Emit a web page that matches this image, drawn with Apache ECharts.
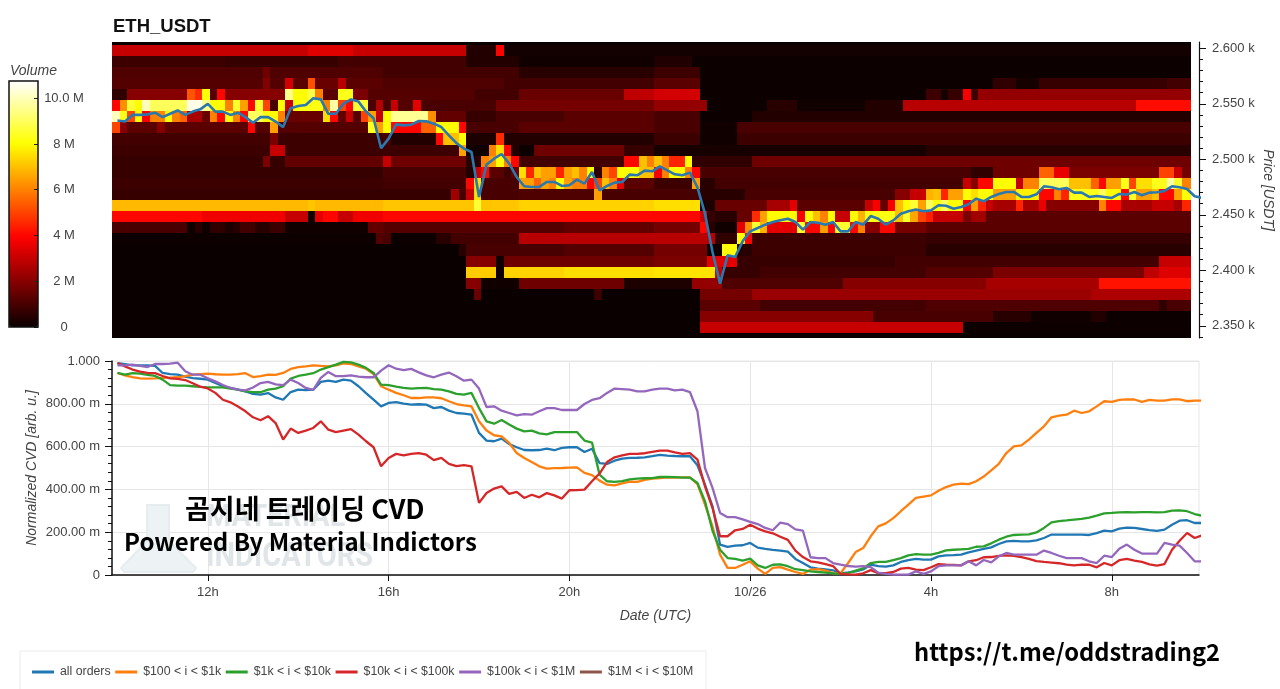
<!DOCTYPE html>
<html><head><meta charset="utf-8">
<style>html,body{margin:0;padding:0;background:#fff}#c{width:1280px;height:689px}</style>
<script src="https://cdn.jsdelivr.net/npm/echarts@6/dist/echarts.min.js"></script>
</head><body><div id="c"></div>
<script>
// ---- chart values ----
const rowPrices = [2609,2599,2589,2579,2569,2559,2549,2539,2529,2519,2509,2499,2489,2479,2469,2459,2449,2439,2429,2419,2409,2399,2389,2379,2369,2359,2349,2339];
// heat rows: value (M), end column (exclusive), value, end column ...
const heat2609 = [.02,144];
const heat2599 = [3,26,3.4,32,3,47,.4,51,3.9,52,.15,144];
const heat2589 = [.8,15,.7,30,.9,47,.4,54,.1,72,.35,77,.05,144];
const heat2579 = [1.1,20,1.6,21,1.1,36,.9,54,.5,72,.8,78,.05,144];
const heat2569 = [1.2,20,1.9,21,1.2,23,3.2,24,1.3,26,5.2,27,1.5,30,2.8,31,1.3,36,1.1,52,.9,72,1.3,78,.05,117,.6,120,.2,123,.7,140,.9,144];
const heat2559 = [.6,2,2,10,5.3,11,4.6,12,8,13,1.2,14,4,15,2,23,9.5,24,8,26,8.8,27,6,28,1.3,30,8.3,32,1.8,34,1.2,48,.9,54,1.5,68,2.9,72,3.2,78,.05,108,.8,110,.2,111,.7,113,3.8,114,.8,115,2.2,144];
const heat2549 = [4,1,6.2,2,8.6,3,8,4,10,5,9,10,10.5,12,9.5,13,8,15,6,16,8.5,17,6.5,18,4,19,8.5,20,5,21,1,22,8,23,3,24,8,25,8.2,28,6,29,9.8,30,5,31,4,32,8.6,34,1,35,2.7,36,1,37,3,38,1.2,40,3.5,41,1,51,1.7,72,2.2,79,.05,87,.5,91,.1,100,.4,105,2.8,136,4.1,144];
const heat2539 = [10,1,8.3,2,5,3,8,4,3.8,5,6,7,8,8,6,9,5.5,10,2.5,12,1.5,13,6,14,4,15,8,16,6,17,4,18,9,20,8,22,6,23,1.5,28,7.5,29,4,30,1.4,31,3,32,1.2,33,5,34,6.5,35,3,36,8,37,9.6,42,6.2,43,1.4,47,.7,51,1,60,1.3,72,1,78,.05,85,.4,144];
const heat2529 = [5,1,2,2,1.3,6,2,7,1.3,18,4,19,1.2,21,6.5,22,1.2,34,8.3,35,6.5,36,8,37,4,41,5.5,43,8,46,4,47,1,54,1.3,72,1,78,.1,83,1,144];
const heat2519 = [.9,21,1.8,22,.8,36,1,37,.4,43,4,44,7,46,8,47,.3,51,4.6,52,.4,72,.8,78,.1,83,.8,144];
const heat2509 = [.8,21,3,23,.8,46,6.5,47,.1,50,6,51,7.5,52,4,53,.4,54,.05,56,1.6,68,.7,72,.2,108,.5,144];
const heat2499 = [.7,20,1.8,21,.7,23,1.4,36,3,37,1.6,47,.5,49,6,50,6.5,51,8,52,6,53,4,54,.9,68,4,70,7,71,6,72,7,73,6,74,4.5,76,8,77,.6,85,1.6,144];
const heat2489 = [.7,36,1,47,.4,48,3,49,4,50,1.3,52,.8,53,1.5,54,7.5,55,4.5,56,7,57,6.5,59,4.5,60,6.5,61,7,62,6,63,8,64,.6,65,6,66,5,67,8,70,7,72,3.8,73,6,74,8,76,6,77,4,78,1,114,.6,117,1.6,123,5.5,125,3.6,127,1.8,139,5,141,3,142,1.7,144];
const heat2479 = [.8,36,.9,47,4,48,7.5,49,1,54,6.5,56,5.5,57,6.5,58,6,59,8,60,6.5,61,6,63,4,64,5,65,7,66,6,67,3.5,68,1.3,72,.8,77,6.5,78,.5,80,.9,113,3,114,2,115,4,117,8,120,3,121,6,123,9,127,7,130,5.5,131,4,132,6.5,134,8.3,135,5,136,7.5,138,8.3,140,9.8,141,8.5,142,6,144];
const heat2469 = [.7,45,2.4,46,1,47,3,48,7.5,49,1,54,1.1,64,6.5,65,1,78,.5,84,1,104,2,106,3,108,6.8,109,7,110,4.5,111,6.5,113,8,114,7.5,115,8,117,6.5,120,7.8,123,4,125,6,126,4.5,127,8.3,131,9,132,8,134,4,135,8.5,136,6.5,138,7,139,4,141,6.5,142,8,144];
const heat2459 = [6.9,26,7.1,27,6.9,36,7.1,48,8.6,49,7.1,54,7.3,72,7.5,78,.3,80,1.5,87,2.5,90,3.5,91,1.3,100,3,101,3.8,102,1.5,103,3.8,104,7,105,8,106,8.6,107,6.5,108,9,109,8,110,9,111,8,113,4,114,6.5,115,4.5,116,3,117,2.5,120,4.5,121,2.5,123,3.6,124,2,131,6,132,4,134,2.5,138,3,141,2.5,142,4.5,144];
const heat2449 = [4,12,3.7,23,3,26,.1,27,3.5,28,4,30,3,32,3.7,36,4,78,3,79,.7,80,.5,83,1.5,85,4.6,86,6.5,87,8,91,3.8,92,8,93,7,94,6,95,8,96,3,98,8,99,6.8,100,8.2,104,7,105,8.5,106,6.6,107,5,108,4.4,109,3,113,1.8,114,2.4,116,1.3,144];
const heat2439 = [1,10,.1,11,.5,12,.1,13,.6,15,.3,16,.5,17,.9,19,.5,21,.8,23,.1,34,1.4,36,1.2,60,1.4,72,1.7,78,4,79,.5,80,.1,83,3.5,84,6.2,85,8.5,86,6.8,87,3.5,91,8.5,92,4,94,6.5,95,4,96,8.5,98,4,99,6,100,2,102,4,104,1.7,108,1.3,144];
const heat2429 = [.05,35,1.2,36,1,37,.05,43,.5,45,.9,54,2.8,80,.6,83,8,84,4,85,.8,108,.7,144];
const heat2419 = [.02,46,.5,47,1,60,1.2,72,1.7,79,.1,81,8,83,.5,85,.8,108,.5,144];
const heat2409 = [.02,47,2,51,.1,52,1.6,72,1.8,79,3.5,83,.7,104,.9,139,3,144];
const heat2399 = [.02,47,7.2,51,.05,52,7.3,60,7.5,72,7.6,80,3,81,.7,86,.9,108,1.2,117,1.8,137,2.9,139,3.4,144];
const heat2389 = [.02,47,2,49,.1,54,1.6,68,.3,77,2.2,81,1.1,97,2,116,2.5,131,4.2,144];
const heat2379 = [.02,48,1.5,49,.02,64,.8,65,.02,78,1.7,85,2.3,130,2.6,144];
const heat2369 = [.02,78,1.3,86,.9,108,1.1,139,.6,140,1,144];
const heat2359 = [.02,78,2,101,1,117,.5,122,.1,130,.4,132,.05,144];
const heat2349 = [.02,78,3,113,.05,144];
const heat2339 = [.02,144];
const heatRows = [heat2609,heat2599,heat2589,heat2579,heat2569,heat2559,heat2549,heat2539,heat2529,heat2519,heat2509,heat2499,heat2489,heat2479,heat2469,heat2459,heat2449,heat2439,heat2429,heat2419,heat2409,heat2399,heat2389,heat2379,heat2369,heat2359,heat2349,heat2339];

const priceLine = [
2535,2534,2540,2540,2540.5,2542,2538,2541,2544,2540,2543,2545,2550,2543,2543,2540,2542,2538,2533,2538,2538,2534,2529,2546,2548,2549,2555,2554,2541,2541,2550,2554,2552,2543,2537,2510,
2518.6,2531.5,2530.6,2531.2,2534.5,2534.2,2532.1,2529.1,2521.6,2514.7,2509.6,2506.6,2466,2495.2,2500.6,2504.8,2496.1,2484.1,2475.7,2475.1,2475.1,2479.6,2479.6,2476,2476.6,2481.7,2478.1,2488.6,2472.1,2476,2479,2479.6,2486.2,2485.6,2489.8,2489.2,
2493.7,2490.1,2486.5,2485.6,2488,2474.8,2451,2416.5,2388,2413.5,2412,2426.1,2435.1,2438.1,2441.1,2443.5,2445,2446.5,2443.5,2436.6,2443.5,2442.9,2441.1,2443.5,2435.1,2435.1,2443.5,2441.1,2448.9,2446.5,2441.1,2445,2451,2453.2,2454.7,2453.2,
2454,2458.6,2458.2,2455.5,2457,2459.5,2464.6,2462.2,2466.1,2468.8,2470.6,2470.6,2466.1,2466.1,2468.5,2475.7,2474.8,2473,2474.2,2470,2470,2466.1,2467,2466.1,2465.2,2468.8,2468.2,2470.6,2467.6,2470,2470.3,2471.5,2475.7,2474.8,2473.3,2466.7,2465.2];

const cvdAll = [
990,985,980,980,980,977,944,939,936,927,920,917,913,897,882,874,866,858,846,843,850,830,819,855,866,864,866,902,908,902,913,908,882,850,819,788,
804,808,801,796,798,796,780,785,768,757,754,749,664,628,625,637,612,597,584,583,584,590,583,594,597,597,575,590,523,519,534,544,547,548,550,555,
561,558,556,555,555,513,422,321,142,131,137,139,150,128,122,117,114,109,75,56,36,30,26,22,8,12,17,26,48,41,39,45,61,70,75,72,
72,87,92,93,95,106,114,122,129,145,157,159,157,157,162,173,189,189,189,189,189,187,196,207,204,217,221,220,215,210,206,212,235,254,256,243,243];
const cvd100to1k = [
944,933,925,919,918,919,921,922,924,929,936,939,941,938,936,936,939,943,925,929,936,935,944,963,971,975,980,977,975,980,989,986,975,964,939,882,
866,851,840,827,827,830,830,826,812,799,793,788,718,675,653,648,617,570,547,528,508,497,499,500,502,503,477,467,441,422,419,428,436,435,445,450,
453,456,455,456,456,425,329,227,95,33,33,48,64,30,5,33,37,25,14,5,25,27,20,9,8,56,107,126,181,227,241,266,298,329,360,366,
372,394,411,422,427,425,438,460,489,519,570,601,606,633,664,695,737,745,749,768,757,765,788,812,809,818,821,820,809,818,815,815,821,821,812,815,815];
const cvd1kto10k = [
944,936,943,941,935,930,913,887,885,885,882,879,877,877,877,871,866,858,855,854,866,871,882,918,930,936,943,960,971,983,996,994,983,968,944,890,
887,880,874,871,873,874,869,866,858,846,843,851,780,718,707,724,703,684,671,675,662,657,668,668,668,668,628,619,469,438,435,439,447,450,452,453,
458,458,457,455,455,430,344,207,118,79,75,67,76,45,33,48,50,41,27,23,17,14,11,8,5,9,20,31,56,61,61,70,79,92,98,95,
95,103,115,118,120,122,132,134,148,165,179,187,189,190,199,220,246,252,255,259,262,268,277,288,290,293,294,293,294,294,293,294,301,302,298,285,277];
const cvd10kto100k = [
991,975,960,950,944,943,930,919,916,911,896,880,872,851,819,807,787,765,737,723,742,710,633,684,664,675,687,718,679,668,675,682,656,625,597,508,
547,566,559,566,570,562,537,547,519,509,513,508,337,383,404,414,379,388,360,375,363,383,372,357,396,397,399,438,474,528,550,559,566,566,569,575,
581,581,573,566,570,539,414,313,181,181,209,215,235,217,204,195,179,164,114,84,64,59,51,42,5,3,2,8,23,9,9,14,30,33,25,23,
36,51,48,47,45,64,69,83,84,89,92,89,83,75,65,61,58,55,48,45,48,48,36,56,45,69,75,67,61,50,44,51,118,160,196,173,185];
const cvd100kto1m = [
980,980,983,977,972,986,986,988,992,952,936,936,919,905,888,874,866,863,876,897,902,891,887,913,897,874,865,921,949,929,929,933,927,924,924,955,
980,964,957,963,947,933,924,936,946,929,908,913,871,785,788,768,757,746,752,749,765,780,780,771,771,771,799,818,826,851,871,869,866,858,858,866,
871,871,863,866,855,765,500,407,290,270,270,260,248,238,220,209,245,238,213,207,83,79,79,56,48,42,39,41,37,11,5,2,2,2,17,5,
17,41,45,45,45,64,45,70,59,87,103,95,95,95,95,114,103,90,79,79,79,64,56,90,84,123,142,118,100,100,100,150,142,137,103,64,64];
const cvd1mto10m = [];

const legendNames = ['all orders','$100 < i < $1k','$1k < i < $10k','$10k < i < $100k','$100k < i < $1M','$1M < i < $10M'];
const lineColors = ['#1f77b4','#ff7f0e','#2ca02c','#d62728','#9467bd','#8c564b'];
const cvdSeries = [cvdAll,cvd100to1k,cvd1kto10k,cvd10kto100k,cvd100kto1m,cvd1mto10m];

const hourTicks = [12,16,20,24,28,32];
const hourTickLabels = ['12h','16h','20h','10/26','4h','8h'];
const priceMajor = [2350,2400,2450,2500,2550,2600];
const priceMinor = [2340,2360,2370,2380,2390,2410,2420,2430,2440,2460,2470,2480,2490,2510,2520,2530,2540,2560,2570,2580,2590];
const volumeTicks = [0,2,4,6,8,10];
const volumeLabels = ['0','2 M','4 M','6 M','8 M','10.0 M'];

// ---- drawing ----
const SANS = '"Liberation Sans",Arial,sans-serif', KR = '"Noto Sans CJK KR","Noto Sans",sans-serif';
const TXT = '#444', XMIN = 9.88, XMAX = 33.93, PMIN = 2339, PMAX = 2605.7, VMAX = 10.75;
const hours = i => 10 + i / 6;
const heatRight = 33.744;
function expand(row){const out=[];let c=0;for(let k=0;k<row.length;k+=2){while(c<row[k+1]){out.push(row[k]);c++;}}return out;}
const heatData=[];
heatRows.forEach((row,r)=>expand(row).forEach((v,c)=>heatData.push([XMIN+c/6,rowPrices[r],v])));
function hot(x){const cl=v=>Math.max(0,Math.min(1,v));
  const R=Math.round(255*cl(.04+x/.365*.96)),G=Math.round(255*cl((x-.365)/.381)),B=Math.round(255*cl((x-.746)/.254));
  return 'rgb('+R+','+G+','+B+')';}
const hotColors=[];for(let k=0;k<=48;k++)hotColors.push(hot(k/48));

const chart=echarts.init(document.getElementById('c'),null,{renderer:'canvas'});
const series=[{
  type:'custom',name:'heat',xAxisIndex:0,yAxisIndex:0,clip:true,silent:true,animation:false,progressive:0,
  encode:{x:0,y:1},data:heatData,
  renderItem(params,api){
    const t=api.value(0),p=api.value(1);
    const a=api.coord([t,p+4.3]),b=api.coord([Math.min(t+1/6,heatRight),p-5.7]);
    const x0=Math.round(a[0]),y0=Math.round(a[1]),x1=Math.round(b[0]),y1=Math.round(b[1]);
    return {type:'rect',shape:{x:x0,y:y0,width:x1-x0,height:y1-y0},style:{fill:api.visual('color'),stroke:null}};
  }
},{
  type:'line',name:'price',xAxisIndex:0,yAxisIndex:0,showSymbol:false,silent:true,animation:false,z:5,
  data:priceLine.map((v,i)=>[hours(i),v]),lineStyle:{color:'#2a78b0',width:2.6},itemStyle:{color:'#1f77b4'}
}];
cvdSeries.forEach((arr,k)=>series.push({
  type:'line',name:legendNames[k],xAxisIndex:1,yAxisIndex:2,showSymbol:false,silent:true,animation:false,z:5,
  data:arr.map((v,i)=>[hours(i),v]),lineStyle:{color:lineColors[k],width:2.3},itemStyle:{color:lineColors[k]}
}));

chart.setOption({
  animation:false,backgroundColor:'#fff',textStyle:{fontFamily:SANS},
  title:{text:'ETH_USDT',left:113,top:17,padding:0,textStyle:{fontFamily:SANS,fontWeight:'bold',fontSize:18.5,color:'#111'}},
  grid:[
    {left:112,right:81,top:42,height:296,outerBoundsMode:'none'},
    {left:112,right:81,top:361,height:214,show:true,borderColor:'#e6e6e6',borderWidth:1,outerBoundsMode:'none'},
    {left:9,width:29,top:81,height:246,outerBoundsMode:'none'}
  ],
  visualMap:{type:'continuous',seriesIndex:0,dimension:2,min:0,max:VMAX,left:9,top:81,itemWidth:29,itemHeight:246,calculable:false,hoverLink:false,padding:0,inRange:{color:hotColors},textStyle:{fontSize:0}},
  xAxis:[
    {gridIndex:0,type:'value',min:XMIN,max:XMAX,show:false},
    {gridIndex:1,type:'value',min:XMIN,max:XMAX,name:'Date (UTC)',nameLocation:'middle',nameGap:34,
      nameTextStyle:{fontStyle:'italic',fontSize:14,color:TXT},
      axisLine:{lineStyle:{color:'#111',width:1.5},onZero:false},
      axisTick:{length:6,lineStyle:{color:'#111'},customValues:hourTicks},
      axisLabel:{customValues:hourTicks,color:TXT,fontSize:13,margin:11,formatter:v=>hourTickLabels[hourTicks.indexOf(v)]||''},
      splitLine:{show:true,lineStyle:{color:'#e6e6e6',width:1}}},
    {gridIndex:2,type:'value',min:0,max:1,show:false}
  ],
  yAxis:[
    {gridIndex:0,type:'value',position:'right',min:PMIN,max:PMAX,name:'Price [USDT]',nameLocation:'middle',nameRotate:-90,nameGap:62,nameMoveOverlap:false,
      nameTextStyle:{fontStyle:'italic',fontSize:14,color:TXT},
      axisLine:{show:true,lineStyle:{color:'#111',width:1.2}},
      axisTick:{show:true,length:7,lineStyle:{color:'#111'},customValues:priceMajor},
      axisLabel:{customValues:priceMajor,color:TXT,fontSize:13,margin:13,formatter:v=>(v/1000).toFixed(3)+' k'},
      splitLine:{show:false}},
    {gridIndex:0,type:'value',position:'right',min:PMIN,max:PMAX,
      axisLine:{show:false},axisLabel:{show:false},splitLine:{show:false},
      axisTick:{show:true,length:4,lineStyle:{color:'#111'},customValues:priceMinor}},
    {gridIndex:1,type:'value',min:0,max:1000,interval:200,name:'Normalized CVD [arb. u.]',nameLocation:'middle',nameGap:73,nameMoveOverlap:false,
      nameTextStyle:{fontStyle:'italic',fontSize:14,color:TXT},
      axisLine:{show:true,lineStyle:{color:'#111',width:1.5},onZero:false},
      axisTick:{show:true,length:7,lineStyle:{color:'#111'}},
      minorTick:{show:true,splitNumber:5,length:4,lineStyle:{color:'#111'}},
      axisLabel:{color:TXT,fontSize:13,margin:12,formatter:v=>v===1000?'1.000':v===0?'0':v.toFixed(2)+' m'},
      splitLine:{show:true,lineStyle:{color:'#e6e6e6',width:1}}},
    {gridIndex:2,type:'value',position:'right',min:0,max:VMAX,z:10,
      axisLine:{show:false,onZero:false},splitLine:{show:false},
      axisTick:{show:true,inside:true,length:4,lineStyle:{color:'#222'},customValues:volumeTicks},
      axisLabel:{customValues:volumeTicks,color:TXT,fontSize:13,align:'center',margin:26,formatter:v=>volumeLabels[volumeTicks.indexOf(v)]||''}}
  ],
  legend:{left:32,top:666,selectedMode:false,itemWidth:22,itemHeight:3,icon:'rect',itemGap:4.6,padding:0,
    data:legendNames,textStyle:{fontFamily:SANS,fontSize:12.3,color:TXT,padding:[0,0,0,1]}},
  graphic:[
    {type:'rect',z:-1,shape:{x:20,y:651,width:686,height:40},style:{fill:'#fff',stroke:'#ececec',lineWidth:1}},
    {type:'rect',z:20,shape:{x:9,y:81,width:29,height:246},style:{fill:'none',stroke:'#111',lineWidth:1.5}},
    {type:'text',x:10,y:64,style:{text:'Volume',font:'italic 14px "Liberation Sans"',fill:TXT}},
    {type:'polygon',z:1,shape:{points:[[147,505],[147,541],[121,568],[124,572],[193,572],[196,568],[169,541],[169,505]]},style:{fill:'#edf3f5',stroke:'#e6edef',lineWidth:2}},
    {type:'text',z:1,x:206,y:503,scaleX:.93,style:{text:'MATERIAL',font:'bold 31px "Liberation Sans Narrow","Roboto"',fill:'#e0e5e8'}},
    {type:'text',z:1,x:206,y:541,scaleX:.88,style:{text:'INDICATORS',font:'bold 33px "Liberation Sans Narrow","Roboto"',fill:'#e0e5e8'}},
    {type:'text',z:30,x:185,y:495,style:{text:'곰지네 트레이딩 CVD',font:'bold 27px '+KR,fill:'#000'}},
    {type:'text',z:30,x:124,y:530,style:{text:'Powered By Material Indictors',font:'bold 24px '+KR,fill:'#000'}},
    {type:'text',z:30,x:914,y:640,style:{text:'https://t.me/oddstrading2',font:'bold 23.7px '+KR,fill:'#000'}}
  ],
  series
});
</script></body></html>
